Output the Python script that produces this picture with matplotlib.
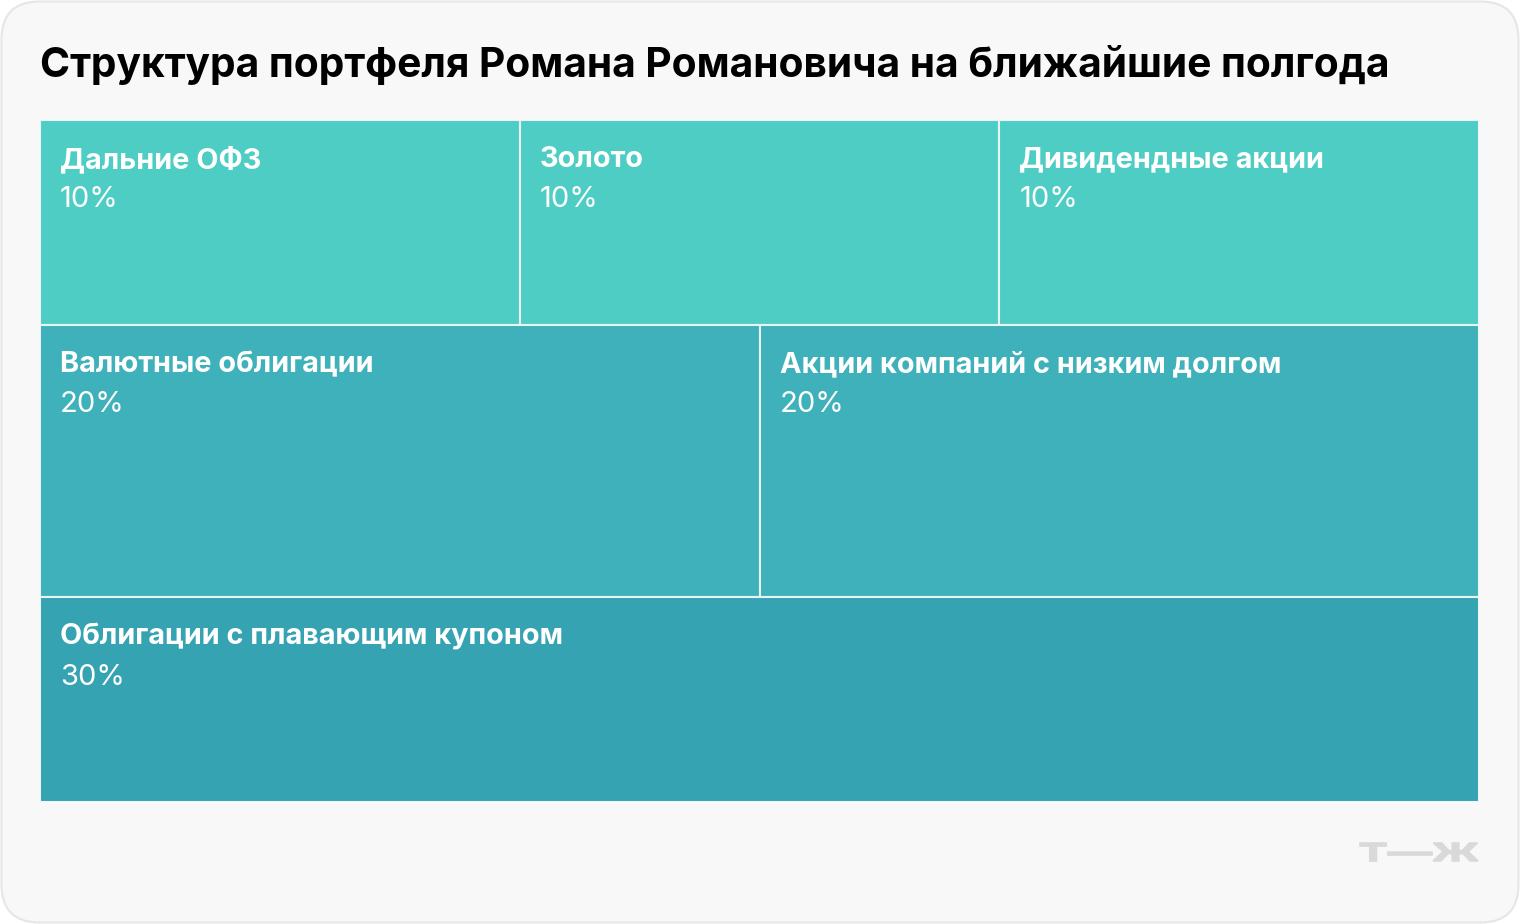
import matplotlib
matplotlib.use("Agg")
import matplotlib.pyplot as plt
from matplotlib.patches import FancyBboxPatch, Rectangle, PathPatch
from matplotlib.textpath import TextPath
from matplotlib.font_manager import FontProperties
from matplotlib.transforms import Affine2D

title = "Структура портфеля Романа Романовича на ближайшие полгода"
rows = [
    ["Дальние ОФЗ", "Золото", "Дивидендные акции"],
    ["Валютные облигации", "Акции компаний с низким долгом"],
    ["Облигации с плавающим купоном"],
]
values = [
    [10, 10, 10],
    [20, 20],
    [30],
]
row_colors = ["#4ECDC4", "#3FB1BA", "#36A3B3"]
logo = "Т—Ж"

W, H = 1520, 924
fig = plt.figure(figsize=(W / 100, H / 100), dpi=100)
fig.patch.set_facecolor("white")

# card background
bg = FancyBboxPatch((1.5 / W, 1.5 / H), (W - 3) / W, (H - 3) / H,
                    boxstyle="round,pad=0,rounding_size=0.025",
                    transform=fig.transFigure, facecolor="#F8F8F8",
                    edgecolor="#E6E6E6", linewidth=1.5, mutation_aspect=W / H,
                    zorder=-10)
fig.patches.append(bg)

fig.text(40 / W, 1 - 65 / H, title, fontsize=29.3, fontweight="bold",
         family=["Inter", "DejaVu Sans"], color="#000000", va="center", ha="left")

ax = fig.add_axes([40 / W, 1 - 802 / H, 1439 / W, 682 / H], zorder=1)
ax.set_xlim(0, 1)
ax.set_ylim(1, 0)
ax.axis("off")

total = sum(sum(r) for r in values)
y = 0.0
for names, vals, col in zip(rows, values, row_colors):
    rsum = sum(vals)
    h = rsum / total
    x = 0.0
    for name, v in zip(names, vals):
        w = v / rsum
        ax.add_patch(Rectangle((x, y), w, h, facecolor=col, edgecolor="#E8F4F4",
                               linewidth=1.5))
        px = x + 20 / 1439
        ax.text(px, y + 40 / 682, name, fontsize=20.8, fontweight="bold",
                family=["Inter", "DejaVu Sans"], color="white",
                va="center", ha="left")
        ax.text(px, y + 80 / 682, f"{v}%", fontsize=21, fontweight="normal",
                family=["Inter", "DejaVu Sans"], color="white",
                va="center", ha="left")
        x += w
    y += h

# logo stretched into its box (pixel coords)
tp = TextPath((0, 0), logo, size=20, prop=FontProperties(family="Inter", weight="bold"))
ext = tp.get_extents()
x0, x1, yb, yt = 1360, 1478, 861, 843
sx = (x1 - x0) / ext.width
sy = (yb - yt) / ext.height
tr = (Affine2D().translate(-ext.x0, -ext.y0).scale(sx / W, sy / H)
      .translate(x0 / W, 1 - yb / H))
fig.patches.append(PathPatch(tp, transform=tr + fig.transFigure,
                             facecolor="#D9D9D9", edgecolor="#D9D9D9",
                             linewidth=1.2, zorder=2))

fig.savefig("out.png", dpi=100, facecolor=fig.get_facecolor())
